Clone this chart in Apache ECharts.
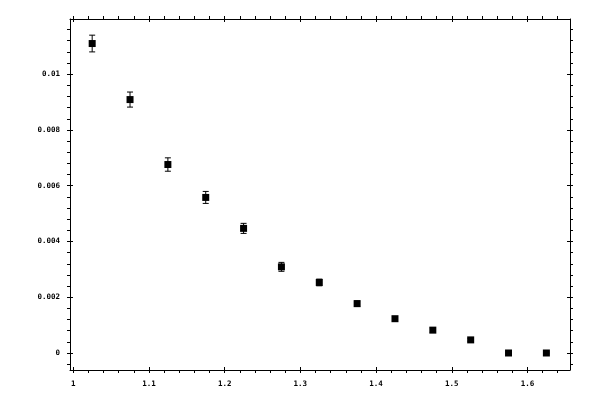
<!DOCTYPE html>
<html><head><meta charset="utf-8">
<script src="https://cdn.jsdelivr.net/npm/echarts@6/dist/echarts.min.js"></script>
<style>html,body{margin:0;padding:0;background:#fff}#c{width:600px;height:400px}</style>
</head><body><div id="c"></div>
<script>
const xValues = [1.025, 1.075, 1.125, 1.175, 1.225, 1.275, 1.325, 1.375, 1.425, 1.475, 1.525, 1.575, 1.625];
const yValues = [0.0111, 0.00909, 0.00676, 0.00558, 0.00447, 0.00309, 0.00253, 0.00177, 0.00123, 0.00082, 0.00047, 0.0, 0.0];
const yErrors = [0.0003, 0.00027, 0.00024, 0.000215, 0.00018, 0.00016, 0.00012, 0.0001, 0.00008, 0.00008, 0.00005, 0.00003, 0.00003];
const xMajorTicks = [1, 1.1, 1.2, 1.3, 1.4, 1.5, 1.6];
const xMinorTicks = [1.02, 1.04, 1.06, 1.08, 1.12, 1.14, 1.16, 1.18, 1.22, 1.24, 1.26, 1.28, 1.32, 1.34, 1.36, 1.38,
                     1.42, 1.44, 1.46, 1.48, 1.52, 1.54, 1.56, 1.58, 1.62, 1.64];
const yMajorTicks = [0, 0.002, 0.004, 0.006, 0.008, 0.01];
const yMinorTicks = [-0.0004, 0.0004, 0.0008, 0.0012, 0.0016, 0.0024, 0.0028, 0.0032, 0.0036, 0.0044, 0.0048, 0.0052,
                     0.0056, 0.0064, 0.0068, 0.0072, 0.0076, 0.0084, 0.0088, 0.0092, 0.0096, 0.0104, 0.0108, 0.0112, 0.0116];
const xRange = [0.9957, 1.6562];
const yRange = [-0.00061, 0.01198];

const font = { fontFamily: 'DejaVu Sans Mono', fontSize: 7.5, fontWeight: 'bold', color: '#000' };
const lineStyle = { color: '#000', width: 1 };

function makeAxes(range, positions, majors, minors, withLabel) {
  const axes = [];
  positions.forEach(function (pos) {
    const labelled = withLabel === pos;
    axes.push({
      type: 'value', position: pos, min: range[0], max: range[1],
      axisLine: { show: true, onZero: false, lineStyle: lineStyle },
      axisTick: { show: true, inside: false, length: 3, customValues: majors, lineStyle: lineStyle },
      axisLabel: labelled ? Object.assign({ show: true, margin: 10, customValues: majors }, font) : { show: false },
      splitLine: { show: false }
    });
    axes.push({
      type: 'value', position: pos, min: range[0], max: range[1],
      axisLine: { show: false, onZero: false },
      axisTick: { show: true, inside: true, length: 3, customValues: majors, lineStyle: lineStyle },
      axisLabel: { show: false }, splitLine: { show: false }
    });
    axes.push({
      type: 'value', position: pos, min: range[0], max: range[1],
      axisLine: { show: false, onZero: false },
      axisTick: { show: true, inside: false, length: 3, customValues: minors, lineStyle: lineStyle },
      axisLabel: { show: false }, splitLine: { show: false }
    });
  });
  return axes;
}

const chart = echarts.init(document.getElementById('c'), null, { renderer: 'canvas' });
chart.setOption({
  animation: false,
  backgroundColor: '#fff',
  grid: { left: 70, right: 30, top: 19, bottom: 30, containLabel: false },
  xAxis: makeAxes(xRange, ['bottom', 'top'], xMajorTicks, xMinorTicks, 'bottom'),
  yAxis: makeAxes(yRange, ['left', 'right'], yMajorTicks, yMinorTicks, 'left'),
  series: [
    {
      type: 'custom',
      xAxisIndex: 0, yAxisIndex: 0,
      data: xValues.map(function (x, i) { return [x, yValues[i] - yErrors[i], yValues[i] + yErrors[i]]; }),
      encode: { x: 0, y: [1, 2] },
      renderItem: function (params, api) {
        const x = api.value(0);
        const lo = api.coord([x, api.value(1)]);
        const hi = api.coord([x, api.value(2)]);
        const w = 3;
        const st = { stroke: '#000', lineWidth: 1 };
        return {
          type: 'group',
          children: [
            { type: 'line', shape: { x1: lo[0], y1: lo[1], x2: hi[0], y2: hi[1] }, style: st },
            { type: 'line', shape: { x1: lo[0] - w, y1: lo[1], x2: lo[0] + w, y2: lo[1] }, style: st },
            { type: 'line', shape: { x1: hi[0] - w, y1: hi[1], x2: hi[0] + w, y2: hi[1] }, style: st }
          ]
        };
      }
    },
    {
      type: 'scatter',
      xAxisIndex: 0, yAxisIndex: 0,
      symbol: 'rect', symbolSize: 7,
      itemStyle: { color: '#000', opacity: 1 },
      data: xValues.map(function (x, i) { return [x, yValues[i]]; })
    }
  ]
});
</script>
</body></html>
